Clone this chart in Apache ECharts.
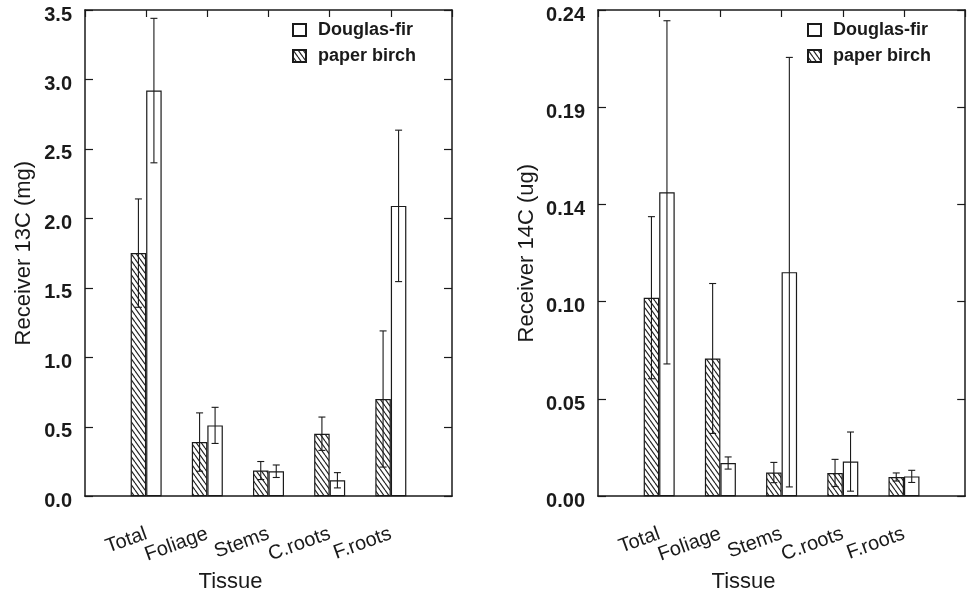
<!DOCTYPE html>
<html>
<head>
<meta charset="utf-8">
<title>Receiver 13C / 14C by tissue</title>
<script src="https://cdn.jsdelivr.net/npm/echarts@6/dist/echarts.min.js"></script>
<style>
  html, body { margin: 0; padding: 0; background: #fff; }
  #main { width: 968px; height: 598px; }
</style>
</head>
<body>
<div id="main"></div>
<script>
// tissue categories (padded with blanks at both ends on the axis)
var tissues = ['Total', 'Foliage', 'Stems', 'C.roots', 'F.roots'];

// receiver 13C (mg)
var birch13    = [1.75, 0.39, 0.185, 0.45, 0.70];
var birch13Err = [0.39, 0.21, 0.065, 0.12, 0.49];
var fir13      = [2.92, 0.51, 0.18, 0.115, 2.09];
var fir13Err   = [0.52, 0.13, 0.045, 0.055, 0.545];

// receiver 14C (ug)
var birch14    = [0.098, 0.068, 0.0117, 0.0115, 0.0095];
var birch14Err = [0.040, 0.037, 0.005, 0.0067, 0.002];
var fir14      = [0.150, 0.0164, 0.1106, 0.0171, 0.0098];
var fir14Err   = [0.0847, 0.003, 0.106, 0.0146, 0.003];

var axisCats = [''].concat(tissues, ['']);
var ink = '#1a1a1a';
var font = '"Liberation Sans", Arial, sans-serif';
var barW = 15.5;

// diagonal hatch for paper birch
function hatch() {
    var w = 5, h = 7;
    var c = document.createElement('canvas');
    c.width = w; c.height = h;
    var ctx = c.getContext('2d');
    ctx.fillStyle = '#fff';
    ctx.fillRect(0, 0, w, h);
    ctx.strokeStyle = '#222';
    ctx.lineWidth = 1.2;
    [-w, 0, w].forEach(function (k) {
        ctx.beginPath();
        ctx.moveTo(k, 0);
        ctx.lineTo(k + w, h);
        ctx.stroke();
    });
    return { image: c, repeat: 'repeat' };
}
var hatchFill = hatch();

function pairs(vals, errs) {
    return vals.map(function (v, i) {
        return errs ? [i + 1, v, errs[i]] : [i + 1, v];
    });
}

function whiskers(off) {
    return function (params, api) {
        var x = api.value(0), m = api.value(1), e = api.value(2);
        var top = api.coord([x, m + e]);
        var bot = api.coord([x, m - e]);
        var cx = top[0] + off, cap = 3.5;
        var st = { stroke: ink, lineWidth: 1.1 };
        return {
            type: 'group',
            children: [
                { type: 'line', shape: { x1: cx, y1: top[1], x2: cx, y2: bot[1] }, style: st },
                { type: 'line', shape: { x1: cx - cap, y1: top[1], x2: cx + cap, y2: top[1] }, style: st },
                { type: 'line', shape: { x1: cx - cap, y1: bot[1], x2: cx + cap, y2: bot[1] }, style: st }
            ]
        };
    };
}

var frame = { onZero: false, lineStyle: { color: ink, width: 1.5 } };

function xAxes(grid) {
    return [
        {
            type: 'category', gridIndex: grid, data: axisCats, boundaryGap: false,
            axisLine: frame,
            axisTick: { show: false },
            axisLabel: {
                interval: 0, rotate: 20, margin: 37,
                color: ink, fontFamily: font, fontSize: 20
            },
            name: 'Tissue', nameLocation: 'middle', nameGap: 72,
            nameTextStyle: { color: ink, fontFamily: font, fontSize: 22, padding: [0, 76, 0, 0] }
        },
        {
            type: 'category', gridIndex: grid, data: axisCats, boundaryGap: false, position: 'top',
            axisLine: frame,
            axisTick: { inside: true, length: 7, lineStyle: { color: ink, width: 1.2 } },
            axisLabel: { show: false }
        }
    ];
}

function yAxes(grid, max, step, name, gap, digits) {
    return [
        {
            type: 'value', gridIndex: grid, min: 0, max: max, interval: step,
            axisLine: { show: true, onZero: false, lineStyle: frame.lineStyle },
            axisTick: { show: true, inside: true, length: 8, lineStyle: { color: ink, width: 1.2 } },
            splitLine: { show: false },
            axisLabel: {
                margin: 13, color: ink, fontFamily: font, fontSize: 20, fontWeight: 'bold',
                verticalAlign: 'top', lineHeight: 10,
                formatter: function (v) { return v.toFixed(digits); }
            },
            name: name, nameLocation: 'middle', nameGap: gap,
            nameTextStyle: { color: ink, fontFamily: font, fontSize: 22 }
        },
        {
            type: 'value', gridIndex: grid, min: 0, max: max, interval: step, position: 'right',
            axisLine: { show: true, onZero: false, lineStyle: frame.lineStyle },
            axisTick: { show: true, inside: true, length: 8, lineStyle: { color: ink, width: 1.2 } },
            splitLine: { show: false },
            axisLabel: { show: false }
        }
    ];
}

function panel(grid, birch, birchErr, fir, firErr) {
    var xi = grid * 2, yi = grid * 2;
    return [
        {
            name: 'paper birch', type: 'bar', xAxisIndex: xi, yAxisIndex: yi,
            barWidth: barW, barGap: '0%',
            itemStyle: { color: hatchFill, borderColor: ink, borderWidth: 1.2 },
            data: pairs(birch)
        },
        {
            name: 'Douglas-fir', type: 'bar', xAxisIndex: xi, yAxisIndex: yi,
            barWidth: barW, barGap: '0%',
            itemStyle: { color: '#fff', borderColor: ink, borderWidth: 1.2 },
            data: pairs(fir)
        },
        {
            type: 'custom', xAxisIndex: xi, yAxisIndex: yi, z: 5,
            renderItem: whiskers(-barW / 2), data: pairs(birch, birchErr)
        },
        {
            type: 'custom', xAxisIndex: xi, yAxisIndex: yi, z: 5,
            renderItem: whiskers(barW / 2), data: pairs(fir, firErr)
        }
    ];
}

function legend(left) {
    return {
        left: left, top: 21, orient: 'vertical', padding: 0,
        icon: 'rect', itemWidth: 13, itemHeight: 12, itemGap: 8,
        selectedMode: false,
        data: ['Douglas-fir', 'paper birch'],
        textStyle: { color: ink, fontFamily: font, fontSize: 18, fontWeight: 'bold', padding: [0, 0, 0, 7] }
    };
}

var chart = echarts.init(document.getElementById('main'));
chart.setOption({
    animation: false,
    backgroundColor: '#fff',
    grid: [
        { left: 85, top: 10, width: 367, height: 487 },
        { left: 598, top: 10, width: 368, height: 487 }
    ],
    legend: [legend(292), legend(807)],
    xAxis: xAxes(0).concat(xAxes(1)),
    yAxis: yAxes(0, 3.5, 0.5, 'Receiver 13C (mg)', 50, 1)
        .concat(yAxes(1, 0.24, 0.048, 'Receiver 14C (ug)', 60, 2)),
    series: panel(0, birch13, birch13Err, fir13, fir13Err)
        .concat(panel(1, birch14, birch14Err, fir14, fir14Err))
});
</script>
</body>
</html>
